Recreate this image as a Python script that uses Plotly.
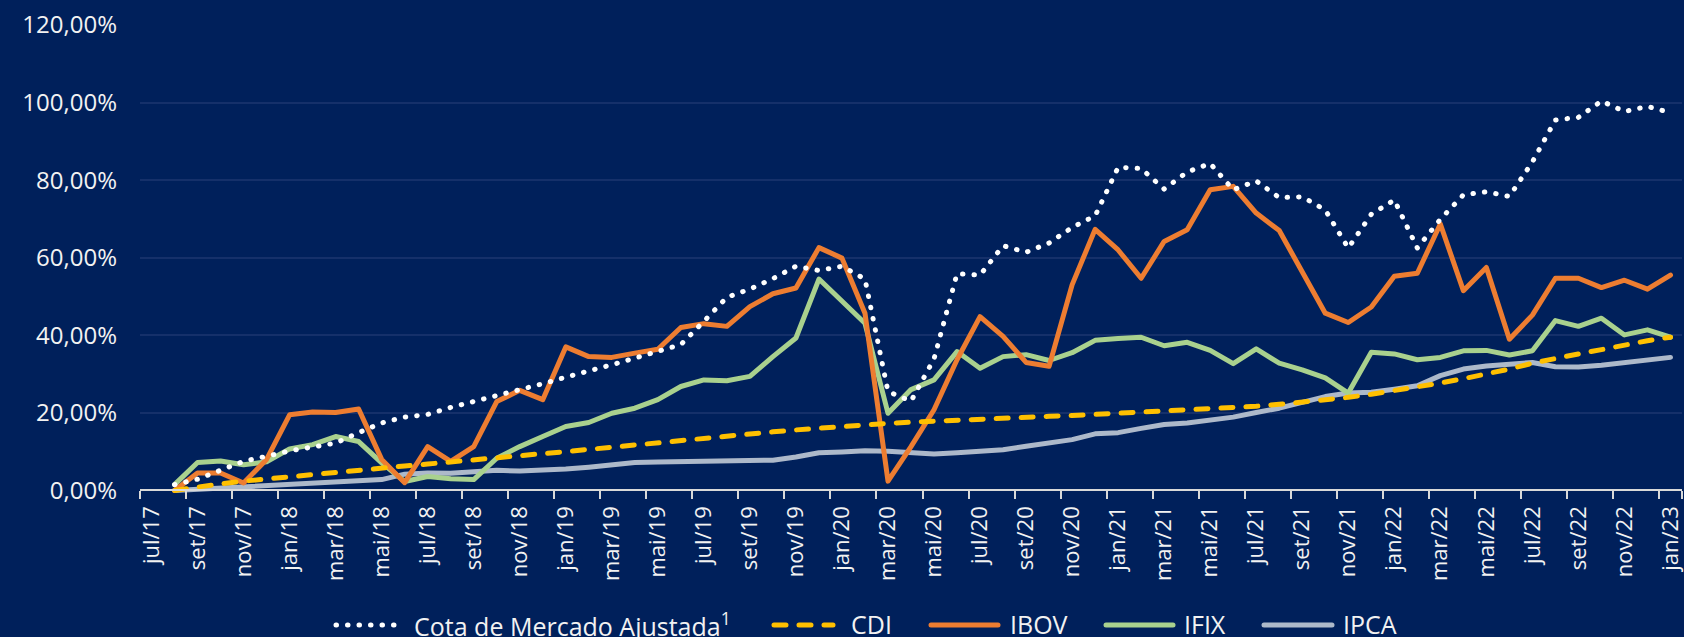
import plotly.graph_objects as go

# ---------------- data ----------------
months = ["jul/17", "ago/17", "set/17", "out/17", "nov/17", "dez/17",
          "jan/18", "fev/18", "mar/18", "abr/18", "mai/18", "jun/18", "jul/18", "ago/18", "set/18", "out/18", "nov/18", "dez/18",
          "jan/19", "fev/19", "mar/19", "abr/19", "mai/19", "jun/19", "jul/19", "ago/19", "set/19", "out/19", "nov/19", "dez/19",
          "jan/20", "fev/20", "mar/20", "abr/20", "mai/20", "jun/20", "jul/20", "ago/20", "set/20", "out/20", "nov/20", "dez/20",
          "jan/21", "fev/21", "mar/21", "abr/21", "mai/21", "jun/21", "jul/21", "ago/21", "set/21", "out/21", "nov/21", "dez/21",
          "jan/22", "fev/22", "mar/22", "abr/22", "mai/22", "jun/22", "jul/22", "ago/22", "set/22", "out/22", "nov/22", "dez/22",
          "jan/23"]

# values from ago/17 to jan/23 (first category jul/17 has no point)
cota = [1.5, 2.9, 5.2, 7.5, 8.8, 10.2, 11.2, 12.2, 14.9, 17.4, 18.9, 19.6, 21.4, 22.9, 24.3, 25.8, 27.5,
        29.2, 30.7, 32.4, 34.1, 35.8, 37.6, 43.6, 49.8, 51.9, 54.6, 57.8, 56.7, 57.8, 54.5,
        25.5, 23.0, 33.9, 55.9, 55.5, 63.1, 61.4, 63.8, 67.8, 70.8,
        83.3, 83.0, 77.7, 82.1, 84.3, 77.5, 79.8, 75.5, 75.7, 72.3, 62.5, 71.2,
        74.9, 62.5, 69.9, 76.2, 77.0, 75.8, 84.7, 95.5, 96.2, 100.4, 97.7, 99.0,
        97.4]
cdi = [0.0, 1.0, 1.7, 2.4, 3.0, 3.6, 4.2, 4.8, 5.3, 5.8, 6.3, 6.8, 7.4, 7.9, 8.4, 9.0, 9.5,
       10.0, 10.6, 11.1, 11.6, 12.2, 12.8, 13.3, 13.9, 14.5, 15.1, 15.6, 16.1, 16.5, 16.9,
       17.3, 17.6, 17.9, 18.2, 18.5, 18.7, 18.9, 19.1, 19.3, 19.6,
       19.8, 20.0, 20.3, 20.6, 20.9, 21.3, 21.7, 22.2, 22.7, 23.3, 24.0, 24.8,
       25.7, 26.7, 27.7, 28.8, 29.9, 31.3, 32.8, 34.1, 35.2, 36.3, 37.5, 38.6,
       39.5]
ibov = [0.0, 4.5, 4.5, 1.9, 8.0, 19.5, 20.2, 20.1, 21.0, 8.0, 2.0, 11.3, 7.5, 11.3, 22.9, 25.8, 23.4,
        37.0, 34.5, 34.3, 35.4, 36.4, 42.0, 43.0, 42.3, 47.4, 50.7, 52.2, 62.6, 59.9, 45.7,
        2.4, 11.3, 20.8, 33.7, 44.8, 39.7, 33.0, 32.0, 53.0, 67.3,
        62.0, 54.7, 64.2, 67.2, 77.5, 78.4, 71.5, 67.0, 56.4, 45.7, 43.3, 47.3,
        55.2, 56.0, 68.7, 51.5, 57.5, 39.0, 45.2, 54.7, 54.7, 52.3, 54.2, 51.9,
        55.5]
ifix = [1.5, 7.2, 7.6, 6.6, 7.4, 10.7, 11.8, 13.9, 12.6, 7.1, 2.3, 3.6, 3.0, 2.8, 8.3, 11.3, 13.9,
        16.5, 17.5, 19.9, 21.2, 23.4, 26.8, 28.5, 28.3, 29.4, 34.5, 39.3, 54.5, 48.7, 43.1,
        19.9, 26.0, 28.5, 35.8, 31.5, 34.5, 35.0, 33.5, 35.5, 38.7,
        39.2, 39.5, 37.3, 38.2, 36.1, 32.7, 36.5, 32.8, 31.1, 29.0, 25.1, 35.6,
        35.2, 33.7, 34.3, 36.0, 36.1, 34.9, 36.0, 43.8, 42.3, 44.4, 40.1, 41.4,
        39.5]
ipca = [0.0, 0.3, 0.7, 1.0, 1.3, 1.6, 1.9, 2.1, 2.3, 2.8, 4.2, 4.5, 4.4, 4.9, 5.2, 5.0, 5.2,
        5.5, 6.0, 6.7, 7.2, 7.3, 7.4, 7.5, 7.6, 7.7, 7.8, 8.6, 9.7, 9.9, 10.2,
        10.1, 9.6, 9.4, 9.7, 10.1, 10.5, 11.4, 12.2, 13.1, 14.6,
        14.9, 16.0, 17.0, 17.4, 18.2, 18.9, 20.1, 21.2, 22.7, 24.2, 25.1, 25.3,
        26.1, 27.0, 29.6, 31.3, 32.1, 32.7, 33.0, 31.9, 31.8, 32.3, 32.9, 33.6,
        34.3]

y_ticks = [-20, 0, 20, 40, 60, 80, 100, 120]
y_labels = ["", "0,00%", "20,00%", "40,00%", "60,00%", "80,00%", "100,00%", "120,00%"]

series_names = ["Cota de Mercado Ajustada<sup>1</sup>", "CDI", "IBOV", "IFIX", "IPCA"]

# ---------------- styles ----------------
W, H = 1684, 637
L, R, T, B = 140, 2, 25, 69
BG = "#00205B"
GRID = "#15306A"
AXIS = "#D9D9D9"
TXT = "#F2F2F2"
FONT = "Open Sans"

styles = {
    "IPCA": dict(color="#ADB9CA", width=5, dash="solid"),
    "IFIX": dict(color="#A9D18E", width=5, dash="solid"),
    "IBOV": dict(color="#ED7D31", width=5, dash="solid"),
    "CDI": dict(color="#FFC000", width=5, dash="12px,13px"),
    "Cota": dict(color="#FFFFFF", width=5, dash="0.5px,11px"),
}

fig = go.Figure()
for key, vals in [("IPCA", ipca), ("IFIX", ifix), ("IBOV", ibov), ("CDI", cdi), ("Cota", cota)]:
    fig.add_trace(go.Scatter(
        x=months, y=[None] + vals, mode="lines", name=key,
        line=dict(color=styles[key]["color"], width=styles[key]["width"], dash=styles[key]["dash"]),
        showlegend=False, hoverinfo="skip",
    ))

pw = W - L - R
ph = H - T - B


def fx(px):
    return (px - L) / pw


def fy(py):
    return (H - B - py) / ph


# custom legend (sample lines + text)
legend_items = [
    ("Cota", series_names[0], 336, 398, 412),
    ("CDI", series_names[1], 774, 833, 849),
    ("IBOV", series_names[2], 931, 998, 1008),
    ("IFIX", series_names[3], 1106, 1173, 1182),
    ("IPCA", series_names[4], 1264, 1332, 1341),
]
ly = 625
shapes = []
annotations = []
for key, label, x0, x1, tx in legend_items:
    st = styles[key]
    shapes.append(dict(type="line", xref="paper", yref="paper",
                       x0=fx(x0), x1=fx(x1), y0=fy(ly), y1=fy(ly),
                       line=dict(color=st["color"], width=st["width"], dash=st["dash"])))
    annotations.append(dict(xref="paper", yref="paper", x=fx(tx), y=fy(ly - 1),
                            text=label, showarrow=False, xanchor="left", yanchor="middle",
                            font=dict(family=FONT, size=25, color=TXT)))

fig.update_layout(
    width=W, height=H,
    paper_bgcolor=BG, plot_bgcolor=BG,
    margin=dict(l=L, r=R, t=T, b=B, autoexpand=False),
    showlegend=False,
    font=dict(family=FONT, color=TXT),
    shapes=shapes,
    annotations=annotations,
    xaxis=dict(
        type="category", categoryorder="array", categoryarray=months,
        range=[-0.5, len(months) - 0.5],
        tickmode="array", tickvals=months[::2],
        tickangle=-90, tickson="boundaries",
        ticks="outside", ticklen=8, tickwidth=2, tickcolor=AXIS,
        showline=True, linecolor=AXIS, linewidth=2,
        showgrid=False, zeroline=False,
        anchor="free", position=20 / 140,
        tickfont=dict(family=FONT, size=22, color=TXT),
        ticklabelstandoff=6,
    ),
    yaxis=dict(
        range=[-20, 120],
        tickmode="array", tickvals=y_ticks, ticktext=y_labels,
        showgrid=True, gridcolor=GRID, gridwidth=2,
        zeroline=False, showline=False, ticks="",
        tickfont=dict(family=FONT, size=24, color=TXT),
        ticklabelstandoff=22,
    ),
)

page_js = """
document.body.style.margin = '0';
document.body.style.padding = '0';
document.body.style.overflow = 'hidden';
document.body.style.background = '#00205B';
var gd = document.getElementById('{plot_id}');
gd.querySelectorAll('.scatterlayer path.js-line').forEach(function(p) {
    p.style.strokeLinecap = 'round';
    p.style.strokeLinejoin = 'round';
});
gd.querySelectorAll('.shapelayer path').forEach(function(p) {
    p.style.strokeLinecap = 'round';
});
"""

fig.write_html("out.html", post_script=page_js, config={"displayModeBar": False})
